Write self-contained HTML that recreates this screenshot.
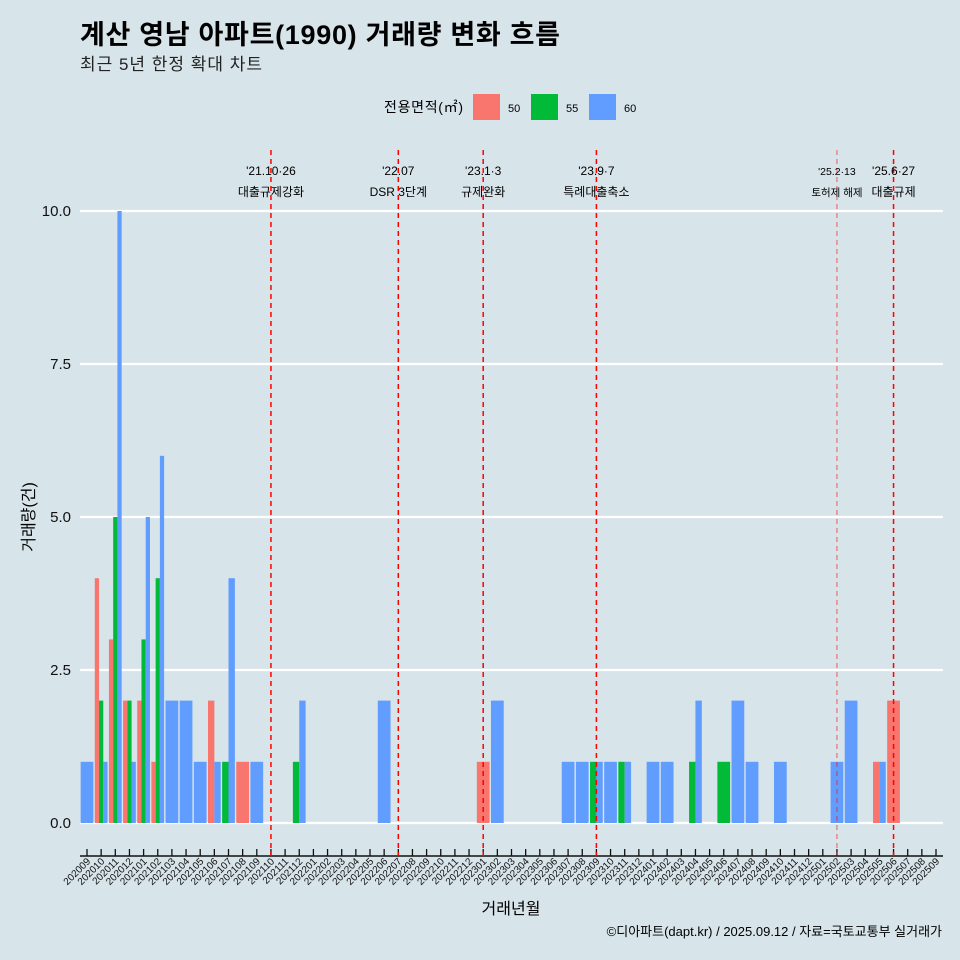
<!DOCTYPE html>
<html><head><meta charset="utf-8"><style>
body{margin:0;background:#d7e4ea;overflow:hidden}
svg{display:block}
svg text{font-family:"Liberation Sans","Noto Sans CJK KR",sans-serif}
</style></head><body>
<svg id="c" width="960" height="960" xmlns="http://www.w3.org/2000/svg">
<rect width="960" height="960" fill="#d7e4ea"/>
<text x="80" y="44" font-size="27" font-weight="bold" fill="#000" textLength="480">계산 영남 아파트(1990) 거래량 변화 흐름</text>
<text x="80" y="70" font-size="17" fill="#222" textLength="182">최근 5년 한정 확대 차트</text>
<g>
<text x="384" y="112" font-size="14" textLength="79">전용면적(㎡)</text>
<rect x="473" y="94" width="27" height="26" fill="#f8766d"/>
<text x="508" y="112" font-size="11">50</text>
<rect x="531" y="94" width="27" height="26" fill="#00ba38"/>
<text x="566" y="112" font-size="11">55</text>
<rect x="589" y="94" width="27" height="26" fill="#619cff"/>
<text x="624" y="112" font-size="11">60</text>
</g>
<text transform="translate(34,517) rotate(-90)" text-anchor="middle" font-size="16">거래량(건)</text>
<text x="511" y="914" text-anchor="middle" font-size="16">거래년월</text>
<text x="942" y="936" text-anchor="end" font-size="13">©디아파트(dapt.kr) / 2025.09.12 / 자료=국토교통부 실거래가</text>
</svg>
<script>
const yTicks=[0,2.5,5,7.5,10];
const yTickLabels=["0.0","2.5","5.0","7.5","10.0"];
const sizes=["50","55","60"];
const colors={"50":"#f8766d","55":"#00ba38","60":"#619cff"};
const months=[];
for(let y=2020,m=9;!(y===2025&&m>9);){months.push(""+y+(m<10?"0":"")+m);m++;if(m>12){m=1;y++;}}
const barMonths=["202009","202010","202010","202010","202011","202011","202011","202012","202012","202012","202101","202101","202101","202102","202102","202102","202103","202104","202105","202106","202106","202107","202107","202108","202109","202112","202112","202206","202301","202302","202307","202308","202309","202309","202310","202311","202311","202401","202402","202404","202404","202406","202407","202408","202410","202502","202503","202505","202505","202506"];
const barSizes=["60","50","55","60","50","55","60","50","55","60","50","55","60","50","55","60","60","60","60","50","60","55","60","50","60","55","60","60","50","60","60","60","55","60","60","55","60","60","60","55","60","55","60","60","60","60","60","50","60","50"];
const barValues=[1,4,2,1,3,5,10,2,2,1,2,3,5,1,4,6,2,2,1,2,1,1,4,1,1,1,2,2,1,2,1,1,1,1,1,1,1,1,1,1,2,1,2,1,1,1,2,1,1,2];
const eventMonths=["202110","202207","202301","202309","202502","202506"];
const eventLine1=["'21.10·26","'22.07","'23.1·3","'23.9·7","'25.2·13","'25.6·27"];
const eventLine2=["대출규제강화","DSR 3단계","규제완화","특례대출축소","토허제 해제","대출규제"];

const svg=document.getElementById('c');const NS="http://www.w3.org/2000/svg";
function mk(t,a,p){const e=document.createElementNS(NS,t);for(const k in a)e.setAttribute(k,a[k]);(p||svg).appendChild(e);return e;}
const x0=87,step=(936-87)/60,yz=823,yu=61.2;
const xs=m=>x0+months.indexOf(m)*step;
const ys=v=>yz-v*yu;
const grid=mk('g',{});

yTicks.forEach((t,i)=>{
 const l=mk('line',{x1:80,x2:943,y1:ys(t),y2:ys(t),stroke:'#fff','stroke-width':2.2},grid);
 
 const tx=mk('text',{x:71,y:ys(t)+5,'text-anchor':'end','font-size':15,fill:'#111'});
 tx.textContent=yTickLabels[i];
 
});
const bars=mk('g',{});

barMonths.forEach((m,i)=>{
 const group=[];barMonths.forEach((mm,j)=>{if(mm===m)group.push(j);});
 const n=group.length,k=group.indexOf(i),bw=step*0.9/n;
 const left=xs(m)-step*0.45+k*bw;
 const r=mk('rect',{x:left,y:ys(barValues[i]),width:bw,height:barValues[i]*yu,fill:colors[barSizes[i]]},bars);
 
});
mk('line',{x1:80,x2:943,y1:856,y2:856,stroke:'#111','stroke-width':1.5});
months.forEach(m=>{
 const x=xs(m);
 const t=mk('line',{x1:x,x2:x,y1:849,y2:856,stroke:'#111','stroke-width':1.3});
 
 const tx=mk('text',{transform:`translate(${x+4},${862}) rotate(-45)`,'text-anchor':'end','font-size':10,fill:'#111'});
 tx.textContent=m;
 
});
eventMonths.forEach((m,i)=>{
 const x=xs(m);const thin=(m==="202502");
 const l=mk('line',{x1:x,x2:x,y1:150,y2:856,stroke:'#f00','stroke-width':thin?1:1.5,'stroke-dasharray':'5,4',opacity:thin?0.6:1});
 
 const fs=thin?10.5:12;
 const a=mk('text',{x:x,y:175,'text-anchor':'middle','font-size':fs});a.textContent=eventLine1[i];
 
 const b=mk('text',{x:x,y:196,'text-anchor':'middle','font-size':fs});b.textContent=eventLine2[i];
 
});
</script>
</body></html>
